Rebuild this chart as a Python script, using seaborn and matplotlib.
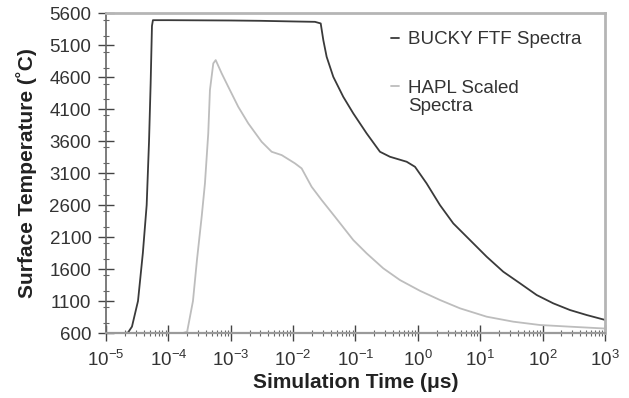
import numpy as np
import pandas as pd
import matplotlib
matplotlib.use("Agg")
import matplotlib.pyplot as plt
import seaborn as sns
from matplotlib.ticker import LogLocator, MultipleLocator, NullFormatter, FixedLocator

# --- data ---
bucky_time = [1.87e-5, 2.25e-5, 2.61e-5, 3.26e-5, 3.9e-5, 4.49e-5, 4.9e-5, 5.2e-5, 5.46e-5, 5.66e-5,
              1e-4, 1e-3, 3e-3, 1e-2, 0.0224, 0.0277, 0.0305, 0.0345, 0.0441, 0.0637, 0.0922,
              0.151, 0.247, 0.357, 0.662, 0.900, 1.38, 2.26, 3.70, 6.85, 12.7, 23.4, 43.4,
              80.3, 148, 275, 509, 1000]
bucky_temp = [600, 605, 700, 1100, 1850, 2600, 3600, 4500, 5400, 5490,
              5490, 5485, 5480, 5470, 5464, 5439, 5178, 4917, 4604, 4292, 4033,
              3720, 3433, 3355, 3277, 3198, 2939, 2600, 2313, 2053, 1792, 1558, 1377,
              1194, 1064, 959, 881, 805]

hapl_time = [1.7e-4, 2.0e-4, 2.48e-4, 2.88e-4, 3.42e-4, 3.86e-4, 4.36e-4, 4.64e-4, 5.25e-4, 5.74e-4,
             7.16e-4, 9.14e-4, 1.32e-3, 1.91e-3, 3.13e-3, 4.53e-3, 6.56e-3, 1.07e-2, 1.37e-2,
             1.98e-2, 2.87e-2, 4.69e-2, 0.0922, 0.151, 0.279, 0.516, 1.08, 2.26, 4.73, 12.7,
             33.9, 90.8, 275, 1000]
hapl_temp = [600, 620, 1100, 1750, 2417, 2939, 3720, 4397, 4814, 4866,
             4658, 4448, 4136, 3877, 3589, 3433, 3381, 3252, 3173,
             2886, 2678, 2417, 2053, 1845, 1611, 1428, 1260, 1116, 986, 855,
             777, 725, 699, 670]

series_names = ["BUCKY FTF Spectra", "HAPL Scaled"]
extra_label = "Spectra"
y_ticks = [600, 1100, 1600, 2100, 2600, 3100, 3600, 4100, 4600, 5100, 5600]

df = pd.concat([
    pd.DataFrame({"time": bucky_time, "temp": bucky_temp, "series": series_names[0]}),
    pd.DataFrame({"time": hapl_time, "temp": hapl_temp, "series": series_names[1]}),
])

sns.set_style("ticks")
plt.rcParams["font.family"] = ["Liberation Sans", "DejaVu Sans"]
plt.rcParams["mathtext.default"] = "regular"

fig = plt.figure(figsize=(6.29, 3.98), dpi=100)
ax = fig.add_axes([0.1685, 0.1633, 0.7933, 0.8037])

palette = {series_names[0]: "#3a3a3a", series_names[1]: "#bdbdbd"}
sns.lineplot(data=df, x="time", y="temp", hue="series", palette=palette, ax=ax,
             sort=False, estimator=None, linewidth=1.3, legend=True)

ax.set_xscale("log")
ax.set_xlim(1e-5, 1e3)
ax.set_ylim(600, 5600)
ax.yaxis.set_major_locator(FixedLocator(y_ticks))
ax.yaxis.set_minor_locator(MultipleLocator(250))
ax.xaxis.set_major_locator(LogLocator(base=10, numticks=20))
ax.xaxis.set_minor_locator(LogLocator(base=10, subs=np.arange(2, 10), numticks=20))
ax.xaxis.set_minor_formatter(NullFormatter())

ax.tick_params(axis="both", which="major", direction="inout", length=11, width=1.0,
               colors="#444444", labelsize=13.5, labelcolor="#333333")
ax.tick_params(axis="both", which="minor", direction="inout", length=5, width=0.8, colors="#666666")
ax.tick_params(axis="x", which="major", pad=7)
ax.tick_params(axis="y", which="major", pad=5)

for side in ["top", "right"]:
    ax.spines[side].set_color("#b5b5b5")
    ax.spines[side].set_linewidth(2.0)
ax.spines["bottom"].set_color("#9a9a9a")
ax.spines["bottom"].set_linewidth(1.6)
ax.spines["left"].set_color("#666666")
ax.spines["left"].set_linewidth(1.2)

ax.set_xlabel("Simulation Time (μs)", fontsize=15, fontweight="bold", color="#222222", labelpad=2)
ax.set_ylabel("Surface Temperature (˚C)", fontsize=15, fontweight="bold", color="#222222", labelpad=9)

handles, labels = ax.get_legend_handles_labels()
leg = ax.legend(handles, labels, loc="upper left", bbox_to_anchor=(0.537, 0.997), frameon=False,
                handlelength=0.45, handletextpad=0.45, labelspacing=1.68, fontsize=13.5,
                labelcolor="#333333", borderpad=0.4)
fig.canvas.draw()
bb = leg.get_texts()[1].get_window_extent().transformed(ax.transAxes.inverted())
ax.text(bb.x0, bb.y0 - 0.005, extra_label, transform=ax.transAxes, fontsize=13.5,
        color="#333333", ha="left", va="top")

fig.savefig("out.png", dpi=100)
